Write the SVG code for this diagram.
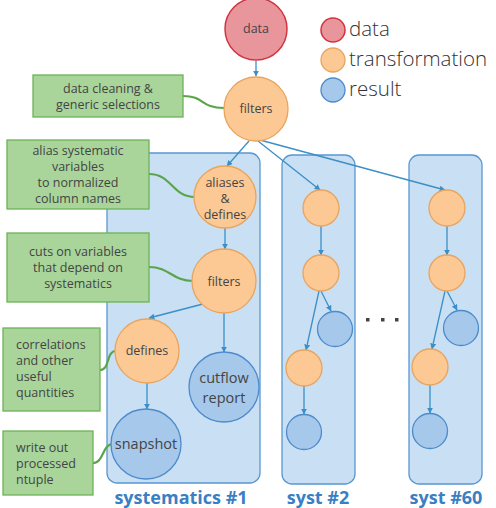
<svg xmlns="http://www.w3.org/2000/svg" width="496" height="508" viewBox="0 0 496 508">
<defs>
<marker id="ah" viewBox="0 0 10 10" refX="9" refY="5" markerWidth="6" markerHeight="6" orient="auto" markerUnits="userSpaceOnUse">
<path d="M0,0 L10,5 L0,10 z" fill="#3a8fc8"/>
</marker>
<style>
text{font-family:"Open Sans","Noto Sans","Liberation Sans",sans-serif;fill:#444}
.panel{fill:#c9dff3;stroke:#5a97d2;stroke-width:1.3}
.red{fill:#e8959c;stroke:#d2343f;stroke-width:1.5}
.org{fill:#fcc995;stroke:#e9a45e;stroke-width:1.3}
.blu{fill:#a6c8ea;stroke:#4d8bcc;stroke-width:1.3}
.box{fill:#a9d59a;stroke:#6cb356;stroke-width:1.3}
.lk{fill:none;stroke:#5aa44a;stroke-width:2.2}
.ar{fill:none;stroke:#3a8fc8;stroke-width:1.3;marker-end:url(#ah)}
.n{font-size:12.5px;text-anchor:middle}
.nb{font-size:14.5px;text-anchor:middle}
.bt{font-size:12.5px;text-anchor:middle}
.bl{font-size:12.5px}
.lg{font-size:20.5px;font-weight:300;fill:#333}
.ttl{font-size:18px;font-weight:bold;fill:#3a7fc4;text-anchor:middle}
</style>
</defs>

<g id="panels">
<rect class="panel" x="107" y="153" width="153" height="330" rx="10"/>
<rect class="panel" x="282" y="155" width="73" height="329" rx="10"/>
<rect class="panel" x="409" y="155" width="73" height="329" rx="10"/>
<text class="ttl" x="181" y="504">systematics #1</text>
<text class="ttl" x="318" y="504">syst #2</text>
<text class="ttl" x="446" y="504">syst #60</text>
</g>

<g id="legend">
<circle class="red" cx="333" cy="30" r="12"/>
<circle class="org" cx="333" cy="60" r="12"/>
<circle class="blu" cx="333" cy="90" r="12"/>
<text class="lg" x="349" y="36">data</text>
<text class="lg" x="349" y="66">transformation</text>
<text class="lg" x="349" y="96">result</text>
</g>

<g id="connectors">
<line class="ar" x1="256" y1="61" x2="256" y2="76"/>
<line class="ar" x1="249" y1="141" x2="227" y2="166"/>
<line class="ar" x1="258" y1="141" x2="320" y2="190"/>
<line class="ar" x1="260" y1="140" x2="445" y2="190"/>
<line class="ar" x1="225" y1="228" x2="225" y2="249"/>
<line class="ar" x1="203" y1="304" x2="149" y2="318"/>
<line class="ar" x1="224" y1="313" x2="224" y2="352"/>
<line class="ar" x1="147" y1="383" x2="147" y2="409"/>
<line class="ar" x1="321" y1="226" x2="321" y2="255"/>
<line class="ar" x1="321" y1="291" x2="331" y2="311"/>
<line class="ar" x1="319" y1="291" x2="306" y2="350"/>
<line class="ar" x1="304" y1="386" x2="304" y2="414"/>
<line class="ar" x1="447" y1="226" x2="447" y2="255"/>
<line class="ar" x1="447" y1="291" x2="457" y2="310"/>
<line class="ar" x1="445" y1="291" x2="432" y2="349"/>
<line class="ar" x1="430" y1="385" x2="430" y2="413"/>
<path class="lk" d="M183,96 C205,96 200,108 224,108"/>
<path class="lk" d="M149,174 C172,174 172,197 195,197"/>
<path class="lk" d="M149,267 C170,267 172,281 193,281"/>
<path class="lk" d="M100,370 C110,370 106,351 116,351"/>
<path class="lk" d="M93,463 C104,463 102,444 113,444"/>
</g>

<g id="dots" fill="#444">
<rect x="366" y="318" width="3.5" height="3.5"/>
<rect x="381" y="318" width="3.5" height="3.5"/>
<rect x="395" y="318" width="3.5" height="3.5"/>
</g>

<g id="n-data"><circle class="red" cx="256" cy="29" r="31"/><text class="n" x="256" y="33">data</text></g>
<g id="n-filters"><circle class="org" cx="256" cy="109" r="32"/><text class="n" x="256" y="113">filters</text></g>
<g id="n-aliases"><circle class="org" cx="225" cy="197" r="31"/><text class="n" x="225" y="187">aliases</text><text class="n" x="225" y="203">&amp;</text><text class="n" x="225" y="219">defines</text></g>
<g id="n-filters2"><circle class="org" cx="224" cy="281" r="32"/><text class="n" x="224" y="286">filters</text></g>
<g id="n-defines"><circle class="org" cx="147" cy="351" r="32"/><text class="n" x="147" y="355">defines</text></g>
<g id="n-cutflow"><circle class="blu" cx="224" cy="387" r="35"/><text class="nb" x="224" y="383">cutflow</text><text class="nb" x="224" y="403">report</text></g>
<g id="n-snapshot"><circle class="blu" cx="146" cy="444" r="35"/><text class="nb" x="146" y="449">snapshot</text></g>

<g id="s2-1"><circle class="org" cx="321" cy="208" r="18"/></g>
<g id="s2-2"><circle class="org" cx="321" cy="273" r="18"/></g>
<g id="s2-3"><circle class="blu" cx="335" cy="329" r="17.5"/></g>
<g id="s2-4"><circle class="org" cx="304" cy="368" r="18"/></g>
<g id="s2-5"><circle class="blu" cx="304" cy="432" r="17.5"/></g>

<g id="s60-1"><circle class="org" cx="447" cy="208" r="18"/></g>
<g id="s60-2"><circle class="org" cx="447" cy="273" r="18"/></g>
<g id="s60-3"><circle class="blu" cx="461" cy="328" r="17.5"/></g>
<g id="s60-4"><circle class="org" cx="430" cy="367" r="18"/></g>
<g id="s60-5"><circle class="blu" cx="430" cy="431" r="17.5"/></g>

<g id="b1"><rect class="box" x="33" y="75" width="150" height="42"/><text class="bt" x="108" y="93">data cleaning &amp;</text><text class="bt" x="108" y="109">generic selections</text></g>
<g id="b2"><rect class="box" x="7" y="140" width="142" height="69"/><text class="bt" x="78" y="155">alias systematic</text><text class="bt" x="78" y="171">variables</text><text class="bt" x="78" y="187">to normalized</text><text class="bt" x="78" y="203">column names</text></g>
<g id="b3"><rect class="box" x="7" y="233" width="142" height="69"/><text class="bt" x="78" y="256">cuts on variables</text><text class="bt" x="78" y="272">that depend on</text><text class="bt" x="78" y="288">systematics</text></g>
<g id="b4"><rect class="box" x="3" y="328" width="97" height="83"/><text class="bl" x="16" y="349">correlations</text><text class="bl" x="16" y="365">and other</text><text class="bl" x="16" y="381">useful</text><text class="bl" x="16" y="397">quantities</text></g>
<g id="b5"><rect class="box" x="3" y="431" width="90" height="64"/><text class="bl" x="16" y="452">write out</text><text class="bl" x="16" y="468">processed</text><text class="bl" x="16" y="484">ntuple</text></g>
</svg>
